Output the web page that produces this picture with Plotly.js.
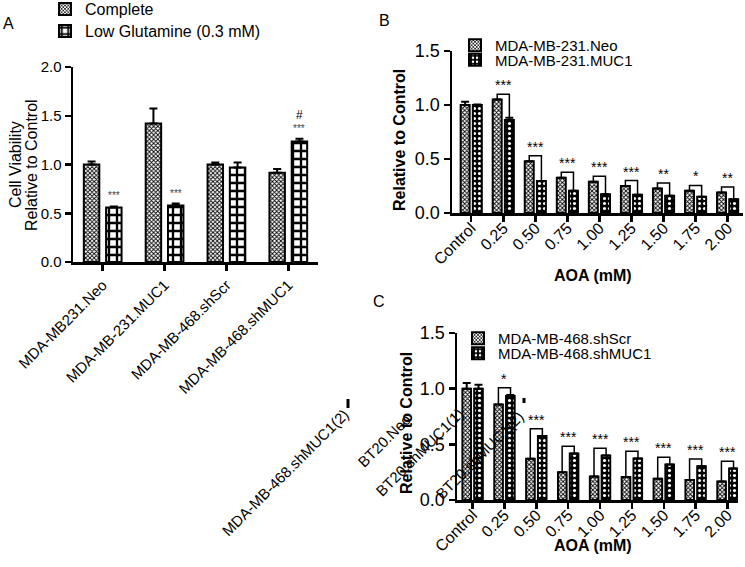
<!DOCTYPE html>
<html><head><meta charset="utf-8">
<script src="https://cdn.plot.ly/plotly-3.0.1.min.js"></script>
<style>body{margin:0;background:#fff}#chart{width:745px;height:567px}</style>
</head><body><div id="chart"></div>
<script>
// ---------- Panel A data ----------
const cellLines = ['MDA-MB231.Neo', 'MDA-MB-231.MUC1', 'MDA-MB-468.shScr', 'MDA-MB-468.shMUC1'];
const completeVals = [1.00, 1.42, 1.00, 0.915];
const completeErr = [0.03, 0.155, 0.02, 0.04];
const lowGlnVals = [0.56, 0.58, 0.97, 1.235];
const lowGlnErr = [0.01, 0.02, 0.05, 0.03];
const lowGlnStars = ['***', '***', '', '***'];
const lowGlnHash = ['', '', '', '#'];

// ---------- Panels B & C data ----------
const aoaDoses = ['Control', '0.25', '0.50', '0.75', '1.00', '1.25', '1.50', '1.75', '2.00'];
const neoVals = [1.00, 1.05, 0.48, 0.327, 0.29, 0.25, 0.227, 0.205, 0.19];
const neoErr = [0.03, 0, 0, 0, 0, 0, 0, 0, 0];
const muc1Vals = [1.00, 0.862, 0.296, 0.205, 0.174, 0.168, 0.159, 0.15, 0.128];
const muc1Err = [0.005, 0.02, 0, 0, 0, 0, 0, 0, 0];
const bSig = ['', '***', '***', '***', '***', '***', '**', '*', '**'];

const shScrVals = [1.00, 0.857, 0.37, 0.25, 0.212, 0.206, 0.19, 0.18, 0.167];
const shScrErr = [0.05, 0, 0, 0, 0, 0, 0, 0, 0];
const shMucVals = [1.00, 0.934, 0.575, 0.418, 0.40, 0.373, 0.318, 0.303, 0.282];
const shMucErr = [0.035, 0.01, 0, 0, 0, 0, 0, 0, 0];
const cSig = ['', '*', '***', '***', '***', '***', '***', '***', '***'];

// ---------- helpers ----------
const W = 745, H = 567;
const px = v => v / W;
const py = v => 1 - v / H;
const FONT = 'Arial, "Liberation Sans", sans-serif';
const zeros = a => a.map(() => 0);

const finePat = {shape: 'x', size: 3, solidity: 0.5, fgcolor: 'black', bgcolor: 'white', fillmode: 'replace'};
const checkPat = {shape: '+', size: 8, solidity: 0.5, fgcolor: 'black', bgcolor: 'white', fillmode: 'replace'};
const dotPat = {shape: '.', size: 5, solidity: 0.3, fgcolor: 'white', bgcolor: 'black', fillmode: 'replace'};

function barTrace(name, x, y, err, xa, ya, width, offset, pat, legend) {
  return {
    type: 'bar', name: name, x: x, y: y, xaxis: xa, yaxis: ya,
    width: width, offset: offset, legend: legend,
    marker: {color: pat.bgcolor, line: {color: 'black', width: 2}, pattern: pat},
    error_y: {type: 'data', symmetric: false, array: err, arrayminus: zeros(err),
              color: 'black', thickness: 2, width: 4},
    hoverinfo: 'skip'
  };
}

const data = [
  barTrace('Complete', cellLines, completeVals, completeErr, 'x', 'y', 0.25, -0.305, finePat, 'legend'),
  barTrace('Low Glutamine (0.3 mM)', cellLines, lowGlnVals, lowGlnErr, 'x', 'y', 0.25, 0.055, checkPat, 'legend2'),
  barTrace('MDA-MB-231.Neo', aoaDoses, neoVals, neoErr, 'x2', 'y2', 0.28, -0.33, finePat, 'legend3'),
  barTrace('MDA-MB-231.MUC1', aoaDoses, muc1Vals, muc1Err, 'x2', 'y2', 0.28, 0.05, dotPat, 'legend4'),
  barTrace('MDA-MB-468.shScr', aoaDoses, shScrVals, shScrErr, 'x3', 'y3', 0.27, -0.32, finePat, 'legend5'),
  barTrace('MDA-MB-468.shMUC1', aoaDoses, shMucVals, shMucErr, 'x3', 'y3', 0.27, 0.05, dotPat, 'legend6')
];

// ---------- axes ----------
function xAxis(domain, range, fontSize, anchor, standoff, shift) {
  return {domain: domain, range: range, anchor: anchor, type: 'category', automargin: false,
    showline: true, linewidth: 2.5, linecolor: 'black', ticks: 'outside', ticklen: 6, tickwidth: 2.5,
    tickcolor: 'black', tickangle: -45, showgrid: false, zeroline: false,
    ticklabelstandoff: standoff, ticklabelshift: shift,
    tickfont: {family: FONT, size: fontSize, color: '#000'}, fixedrange: true};
}
function yAxis(domain, range, fontSize, anchor) {
  return {domain: domain, range: range, anchor: anchor, dtick: 0.5, tick0: 0, tickformat: '.1f', automargin: false,
    showline: true, linewidth: 2.5, linecolor: 'black', ticks: 'outside', ticklen: 6, tickwidth: 2.5,
    tickcolor: 'black', showgrid: false, zeroline: false,
    tickfont: {family: FONT, size: fontSize, color: '#000'}, fixedrange: true};
}

// ---------- annotations ----------
const ann = [];
function txt(text, x, y, size, opts) {
  ann.push(Object.assign({text: text, x: px(x), y: py(y), xref: 'paper', yref: 'paper', showarrow: false,
    xanchor: 'center', yanchor: 'middle', font: {family: FONT, size: size, color: 'black'}}, opts || {}));
}
txt('A', 8, 23, 16);
txt('B', 384, 20, 16);
txt('C', 379, 301, 16);
txt('Cell Viability', 16, 165, 16, {textangle: -90});
txt('Relative to Control', 32, 165, 16, {textangle: -90});
txt('<b>Relative to Control</b>', 399, 140, 16, {textangle: -90});
txt('<b>AOA (mM)</b>', 593, 275, 16);
txt('<b>AOA (mM)</b>', 593, 545, 16);
// stray rotated labels from the underlying figure
txt('MDA-MB-468.shMUC1(2)', 285, 472, 15, {textangle: -45});
txt('BT20.Neo', 384, 440, 15, {textangle: -45});
txt('BT20.shMUC1(1)', 419, 452, 15, {textangle: -45});
txt('<b>Relative to Control</b>', 406, 423, 16, {textangle: -90});
txt('BT20.shMUC1(2)', 479, 455, 15, {textangle: -45});

// panel A significance
cellLines.forEach((c, i) => {
  const top = lowGlnVals[i] + lowGlnErr[i];
  if (lowGlnStars[i]) ann.push({text: lowGlnStars[i], x: i + 0.18, y: top, xref: 'x', yref: 'y',
    showarrow: false, yanchor: 'bottom', yshift: 3, font: {family: FONT, size: 10, color: '#444'}});
  if (lowGlnHash[i]) ann.push({text: lowGlnHash[i], x: i + 0.18, y: top, xref: 'x', yref: 'y',
    showarrow: false, yanchor: 'bottom', yshift: 15, font: {family: FONT, size: 12, color: 'black'}});
});

// brackets B & C
const shapes = [];
function brackets(v1, v2, e1, e2, sig, xa, ya, off) {
  sig.forEach((s, i) => {
    if (!s) return;
    const a = v1[i] + e1[i], b = v2[i] + e2[i];
    const top = Math.max(a, b) + off;
    const xl = i - 0.19, xr = i + 0.19;
    shapes.push({type: 'path', xref: xa, yref: ya,
      path: `M${xl},${a} L${xl},${top} L${xr},${top} L${xr},${b}`,
      line: {color: 'black', width: 1.5}});
    ann.push({text: s, x: i, y: top, xref: xa, yref: ya, showarrow: false, yanchor: 'bottom', yshift: -1,
      font: {family: FONT, size: 14, color: 'black'}});
  });
}
brackets(neoVals, muc1Vals, neoErr, muc1Err, bSig, 'x2', 'y2', 0.05);
brackets(shScrVals, shMucVals, shScrErr, shMucErr, cSig, 'x3', 'y3', 0.065);

// stray marks
shapes.push({type: 'line', xref: 'paper', yref: 'paper', x0: px(348), x1: px(348), y0: py(399), y1: py(408),
  line: {color: 'black', width: 3}});
shapes.push({type: 'line', xref: 'paper', yref: 'paper', x0: px(524), x1: px(524), y0: py(398), y1: py(403),
  line: {color: 'black', width: 3}});

// ---------- legends ----------
function leg(xLeft, topY, size) {
  return {x: px(xLeft), y: py(topY), xanchor: 'left', yanchor: 'top', bgcolor: 'rgba(0,0,0,0)',
    borderwidth: 0, font: {family: FONT, size: size, color: 'black'}};
}

const layout = {
  width: W, height: H, margin: {l: 0, r: 0, t: 0, b: 0, autoexpand: false},
  paper_bgcolor: 'white', plot_bgcolor: 'white',
  barmode: 'group', showlegend: true,
  font: {family: FONT, color: 'black'},
  xaxis: xAxis([px(73), px(318)], [-0.48, 3.48], 15, 'y', 0, 0),
  yaxis: yAxis([py(262), py(67)], [0, 2], 15, 'x'),
  xaxis2: xAxis([px(452), px(743)], [-0.6, 8.48], 16, 'y2', -9, 0),
  yaxis2: yAxis([py(213), py(51)], [0, 1.5], 18, 'x2'),
  xaxis3: xAxis([px(457), px(738)], [-0.49, 8.33], 16, 'y3', -9, 0),
  yaxis3: yAxis([py(500), py(333)], [0, 1.5], 18, 'x3'),
  legend: leg(45, -8, 16),
  legend2: leg(45, 14, 16),
  legend3: leg(455, 29, 15),
  legend4: leg(455, 43.5, 15),
  legend5: leg(458, 322, 15),
  legend6: leg(458, 337, 15),
  annotations: ann,
  shapes: shapes
};

Plotly.newPlot('chart', data, layout, {displayModeBar: false, staticPlot: true});
</script>
</body></html>
